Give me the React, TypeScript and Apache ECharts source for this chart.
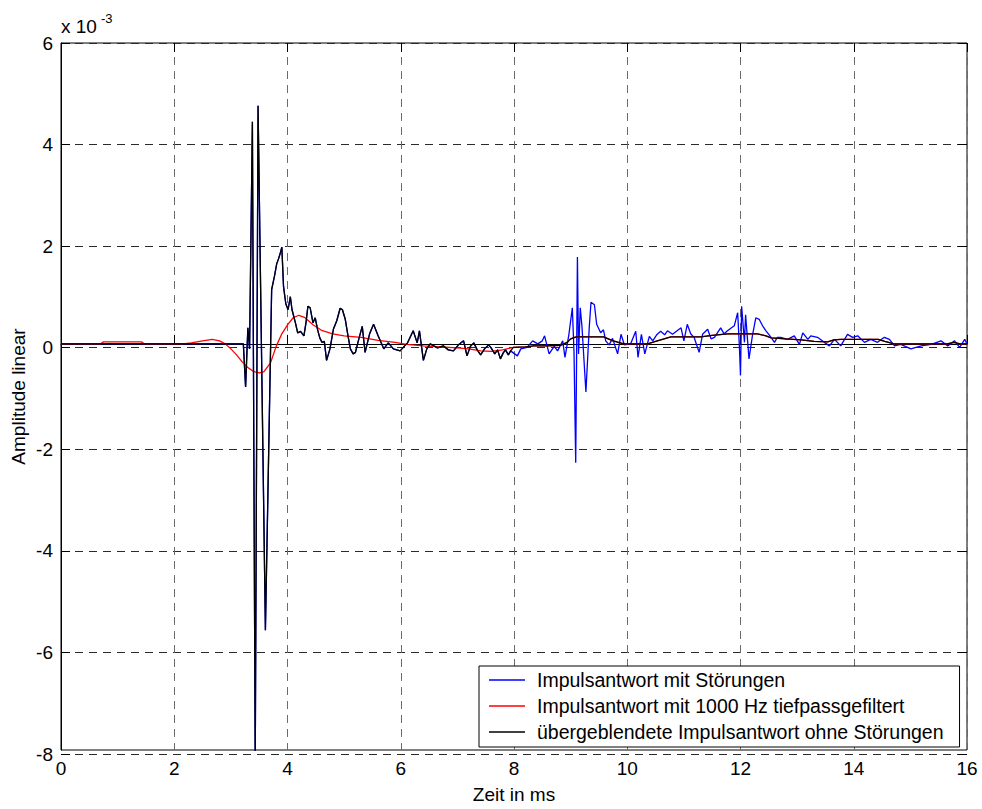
import React, { useEffect, useRef } from "react";
import * as echarts from "echarts";

// Time axis in ms, amplitudes in units of 1e-3
const xTicks = [0, 2, 4, 6, 8, 10, 12, 14, 16];
const yTicks = [-8, -6, -4, -2, 0, 2, 4, 6];

// Direct sound part (identical in "mit Störungen" and "übergeblendete")
const directT = [0, 3.22, 3.26, 3.30, 3.33, 3.38, 3.43, 3.48, 3.61, 3.72, 3.77, 3.81, 3.84, 3.87, 3.90, 3.93, 3.97, 4.01, 4.05, 4.08, 4.11, 4.14, 4.18, 4.23, 4.29, 4.33, 4.36, 4.40, 4.45, 4.49, 4.53, 4.57, 4.61, 4.65, 4.69, 4.75, 4.81, 4.87, 4.93, 4.97, 5.02, 5.07, 5.11, 5.16, 5.20, 5.26, 5.32, 5.37, 5.45, 5.52, 5.60, 5.70, 5.78, 5.87, 5.99, 6.06, 6.12, 6.22, 6.29, 6.33, 6.40, 6.46, 6.52, 6.65, 6.75, 6.84, 6.93, 7.02, 7.11, 7.17, 7.23, 7.29, 7.35, 7.41, 7.48, 7.55, 7.59, 7.66, 7.71, 7.76, 7.81, 7.85, 7.90, 7.94];
const directV = [0, 0, -0.86, 0.32, -0.1, 4.43, -8.4, 4.75, -5.71, 1.08, 1.35, 1.6, 1.69, 1.8, 1.93, 1.14, 0.8, 0.68, 0.94, 0.68, 0.55, 0.42, 0.22, 0.25, 0.16, 0.45, 0.75, 0.72, 0.42, 0.52, 0.29, 0.12, 0.03, 0.05, -0.33, -0.1, 0.29, 0.46, 0.71, 0.68, 0.49, 0.15, -0.1, -0.2, -0.17, 0.1, 0.35, -0.17, 0.2, 0.39, 0.16, -0.1, 0.02, -0.1, -0.14, -0.05, 0.02, 0.26, 0.02, 0.26, -0.33, -0.1, 0, -0.08, -0.04, -0.12, -0.14, -0.02, 0.06, -0.24, -0.05, 0.02, -0.12, -0.22, -0.1, -0.02, -0.07, -0.2, -0.12, -0.3, -0.18, -0.12, -0.22, -0.14];

// Disturbed tail of the impulse response
const noisyT = [8.06, 8.12, 8.23, 8.33, 8.42, 8.50, 8.54, 8.62, 8.71, 8.77, 8.86, 8.90, 8.97, 9.03, 9.06, 9.09, 9.12, 9.14, 9.17, 9.20, 9.27, 9.33, 9.36, 9.42, 9.46, 9.53, 9.58, 9.62, 9.68, 9.74, 9.83, 9.89, 9.95, 10.06, 10.15, 10.19, 10.25, 10.31, 10.39, 10.45, 10.52, 10.59, 10.66, 10.71, 10.80, 10.95, 11.00, 11.06, 11.12, 11.18, 11.27, 11.33, 11.42, 11.48, 11.54, 11.65, 11.71, 11.77, 11.89, 11.95, 11.98, 12.00, 12.02, 12.07, 12.09, 12.15, 12.21, 12.27, 12.33, 12.39, 12.45, 12.54, 12.60, 12.65, 12.71, 12.83, 12.95, 13.04, 13.10, 13.19, 13.24, 13.36, 13.48, 13.57, 13.66, 13.77, 13.89, 13.98, 14.07, 14.19, 14.30, 14.42, 14.54, 14.63, 14.72, 14.83, 15.01, 15.19, 15.37, 15.54, 15.66, 15.78, 15.87, 15.96, 16.0];
const noisyV = [-0.24, -0.1, -0.07, 0.06, 0.0, 0.06, 0.16, -0.2, -0.05, -0.14, 0.06, -0.27, 0.19, 0.72, -0.17, -2.37, 1.73, -0.2, 0.72, 0.35, -0.96, 0.35, 0.83, 0.78, 0.39, 0.22, 0.28, 0.06, -0.02, 0.11, -0.2, 0.19, -0.02, 0.0, 0.25, -0.27, 0.19, -0.2, 0.15, 0.06, 0.18, 0.25, 0.18, 0.26, 0.19, 0.32, 0.06, 0.39, 0.2, 0.13, -0.17, 0.19, 0.29, 0.1, 0.13, 0.32, 0.2, 0.26, 0.36, 0.62, -0.04, -0.63, 0.75, 0.03, 0.58, -0.3, 0.16, 0.52, 0.49, 0.36, 0.26, 0.13, 0.03, 0.13, 0.13, 0.09, 0.16, -0.01, 0.22, 0.09, 0.16, 0.13, 0.03, -0.04, 0.09, -0.04, 0.19, 0.13, 0.16, 0.03, 0.09, 0.03, 0.13, 0.09, -0.04, -0.01, -0.1, -0.04, -0.01, 0.06, -0.04, 0.06, -0.07, 0.09, -0.01];

// Low-pass filtered (1000 Hz) impulse response
const lowpassT = [0, 0.70, 0.75, 1.42, 1.47, 2.15, 2.30, 2.50, 2.67, 2.80, 2.90, 3.00, 3.10, 3.20, 3.30, 3.40, 3.50, 3.58, 3.70, 3.80, 3.90, 4.00, 4.10, 4.20, 4.30, 4.45, 4.60, 4.80, 5.00, 5.30, 5.60, 5.90, 6.10, 6.40, 6.70, 7.00, 7.20, 7.41, 7.60, 7.80, 7.99, 8.20, 8.35, 8.59, 8.82, 8.94, 9.00, 9.10, 9.58, 9.75, 9.94, 10.36, 10.50, 10.65, 10.77, 11.30, 11.50, 11.77, 12.30, 12.45, 12.54, 12.80, 13.07, 13.30, 13.54, 13.65, 13.77, 14.43, 14.55, 14.71, 15.65, 15.77, 15.88, 16.0];
const lowpassV = [0, 0, 0.04, 0.04, 0, 0, 0.02, 0.06, 0.09, 0.06, 0.0, -0.1, -0.22, -0.36, -0.47, -0.55, -0.58, -0.56, -0.38, -0.05, 0.2, 0.38, 0.52, 0.57, 0.53, 0.38, 0.27, 0.2, 0.16, 0.13, 0.07, 0.03, -0.01, -0.04, -0.06, -0.08, -0.1, -0.14, -0.15, -0.12, -0.07, -0.06, -0.04, -0.04, -0.03, 0.03, 0.1, 0.14, 0.14, 0.06, 0, 0, 0.05, 0.1, 0.14, 0.14, 0.17, 0.2, 0.2, 0.16, 0.12, 0.1, 0.08, 0.05, 0.04, 0.08, 0.09, 0.09, 0.05, 0, 0, 0.03, 0, 0];

// Crossfade point (ms) where the blended response switches to the filtered one
const crossfadeAt = 7.95;

const seriesNames = [
  "Impulsantwort mit Störungen",
  "Impulsantwort mit 1000 Hz tiefpassgefiltert",
  "übergeblendete Impulsantwort ohne Störungen",
];
const seriesColors = ["#0000ff", "#ff0000", "#000000"];

const FONT = "'Liberation Sans', Arial, Helvetica, sans-serif";

function pairs(t: number[], v: number[]) {
  return t.map((x, i) => [x, v[i]]);
}

export default function App() {
  const ref = useRef<HTMLDivElement>(null);

  useEffect(() => {
    if (!ref.current) return;
    const chart = echarts.init(ref.current, null, { renderer: "svg" });

    const direct = pairs(directT, directV);
    const noisy = direct.concat(pairs(noisyT, noisyV));
    const lowpass = pairs(lowpassT, lowpassV);
    const blended = direct.concat(lowpass.filter((p) => p[0] > crossfadeAt));

    const lineSeries = (name: string, color: string, data: number[][]) => ({
      name,
      type: "line",
      xAxisIndex: 0,
      yAxisIndex: 0,
      data,
      symbol: "none",
      showSymbol: false,
      clip: true,
      color,
      lineStyle: { color, width: 1.3 },
      emphasis: { disabled: true },
    });

    const option: any = {
      animation: false,
      textStyle: { fontFamily: FONT },
      grid: [
        { left: 61, right: 15, top: 43, bottom: 50, show: true, borderColor: "#000", borderWidth: 1, backgroundColor: "transparent" },
        { left: 61, right: 15, top: 43, bottom: 55 },
      ],
      xAxis: [
        {
          gridIndex: 0,
          type: "value",
          min: xTicks[0],
          max: xTicks[xTicks.length - 1],
          interval: 2,
          position: "bottom",
          axisLine: { show: true, lineStyle: { color: "#000", width: 1 } },
          axisTick: { show: true, inside: true, length: 9, lineStyle: { color: "#000" } },
          axisLabel: { fontSize: 19, color: "#000", margin: 9, fontFamily: FONT },
          splitLine: { show: true, lineStyle: { color: "#6a6a6a", type: [8, 6], width: 1 } },
          name: "Zeit in ms",
          nameLocation: "middle",
          nameGap: 35,
          nameTextStyle: { fontSize: 19, color: "#000", fontFamily: FONT },
        },
        {
          gridIndex: 0,
          type: "value",
          min: xTicks[0],
          max: xTicks[xTicks.length - 1],
          interval: 2,
          position: "top",
          axisLine: { show: false },
          axisTick: { show: true, inside: true, length: 9, lineStyle: { color: "#000" } },
          axisLabel: { show: false },
          splitLine: { show: false },
        },
        { gridIndex: 1, type: "value", min: 0, max: 16, show: false },
      ],
      yAxis: [
        {
          gridIndex: 0,
          type: "value",
          min: -8.1,
          max: 6,
          axisLine: { show: true, lineStyle: { color: "#000", width: 1 } },
          axisTick: { show: false },
          axisLabel: { show: false },
          splitLine: { show: false },
          name: "Amplitude linear",
          nameLocation: "middle",
          nameGap: 33,
          nameTextStyle: { fontSize: 19, color: "#000", fontFamily: FONT },
        },
        {
          gridIndex: 1,
          type: "value",
          min: yTicks[0],
          max: yTicks[yTicks.length - 1],
          interval: 2,
          position: "left",
          axisLine: { show: false },
          axisTick: { show: true, inside: true, length: 9, lineStyle: { color: "#000" } },
          axisLabel: { fontSize: 19, color: "#000", margin: 8, fontFamily: FONT },
          splitLine: { show: true, lineStyle: { color: "#2a2a2a", type: [8, 6], width: 1 } },
        },
        {
          gridIndex: 1,
          type: "value",
          min: yTicks[0],
          max: yTicks[yTicks.length - 1],
          interval: 2,
          position: "right",
          axisLine: { show: false },
          axisTick: { show: true, inside: true, length: 9, lineStyle: { color: "#000" } },
          axisLabel: { show: false },
          splitLine: { show: false },
        },
      ],
      legend: {
        orient: "vertical",
        left: 479,
        top: 666,
        padding: [4, 16, 5, 10],
        itemWidth: 36,
        itemHeight: 1.5,
        itemGap: 6,
        icon: "rect",
        borderColor: "#000",
        borderWidth: 1,
        backgroundColor: "#fff",
        selectedMode: false,
        textStyle: { fontSize: 19.5, color: "#000", fontFamily: FONT, lineHeight: 19, padding: [0, 0, 0, 7] },
        data: seriesNames,
      },
      graphic: [
        {
          type: "text",
          style: { text: "x 10", x: 61, y: 26.5, verticalAlign: "middle", align: "left", fontSize: 19, fontFamily: FONT, fill: "#000" },
        },
        {
          type: "text",
          style: { text: "-3", x: 101, y: 18, verticalAlign: "middle", align: "left", fontSize: 13, fontFamily: FONT, fill: "#000" },
        },
      ],
      series: [
        lineSeries(seriesNames[0], seriesColors[0], noisy),
        lineSeries(seriesNames[1], seriesColors[1], lowpass),
        lineSeries(seriesNames[2], seriesColors[2], blended),
      ],
    };

    chart.setOption(option);
    return () => chart.dispose();
  }, []);

  return (
    <div
      ref={ref}
      style={{ position: "fixed", left: 0, top: 0, width: 982, height: 809, background: "#fff" }}
    />
  );
}
